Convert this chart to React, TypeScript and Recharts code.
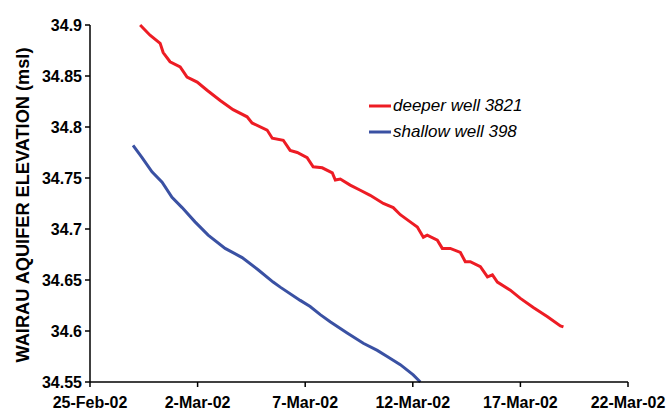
import React from "react";
import { LineChart, Line, XAxis, YAxis, Legend } from "recharts";

// Days since 25-Feb-02
const deeperDays = [2.33, 2.79, 3.26, 3.4, 3.72, 4.19, 4.51, 4.98, 5.44, 6.05, 6.65, 7.3, 7.53, 8.23, 8.47, 8.98, 9.3, 9.63, 10.09, 10.37, 10.79, 11.26, 11.4, 11.63, 12.09, 12.56, 13.02, 13.63, 14.09, 14.42, 14.88, 15.21, 15.49, 15.67, 16.14, 16.37, 16.74, 17.21, 17.44, 17.67, 18.14, 18.47, 18.7, 18.93, 19.53, 20.0, 20.6, 21.26, 21.86, 22.0];
const deeperValues = [34.9, 34.89, 34.882, 34.873, 34.864, 34.859, 34.849, 34.844, 34.836, 34.826, 34.817, 34.81, 34.804, 34.797, 34.789, 34.787, 34.777, 34.775, 34.77, 34.761, 34.76, 34.755, 34.748, 34.749, 34.743, 34.738, 34.733, 34.725, 34.721, 34.714, 34.707, 34.702, 34.692, 34.694, 34.689, 34.681, 34.681, 34.677, 34.668, 34.668, 34.663, 34.653, 34.655, 34.648, 34.64, 34.632, 34.623, 34.614, 34.605, 34.604];

const shallowDays = [2.0, 2.42, 2.88, 3.35, 3.81, 4.28, 4.88, 5.49, 6.28, 7.07, 7.81, 8.51, 8.84, 9.77, 10.23, 10.7, 11.16, 11.95, 12.7, 13.35, 13.81, 14.42, 15.02, 15.35];
const shallowValues = [34.782, 34.77, 34.756, 34.746, 34.731, 34.721, 34.707, 34.694, 34.681, 34.672, 34.66, 34.648, 34.643, 34.63, 34.624, 34.616, 34.609, 34.598, 34.588, 34.581, 34.575, 34.567, 34.557, 34.55];

const xTicks = [0, 5, 10, 15, 20, 25];
const xTickLabels = ["25-Feb-02", "2-Mar-02", "7-Mar-02", "12-Mar-02", "17-Mar-02", "22-Mar-02"];
const yTicks = [34.55, 34.6, 34.65, 34.7, 34.75, 34.8, 34.85, 34.9];
const yTickLabels = ["34.55", "34.6", "34.65", "34.7", "34.75", "34.8", "34.85", "34.9"];

const seriesNames = ["deeper well 3821", "shallow well 398"];
const seriesColors = ["#ED1C24", "#3A51A3"];
const yAxisTitle = "WAIRAU AQUIFER ELEVATION (msl)";

const deeperData = deeperDays.map((d, i) => ({ day: d, value: deeperValues[i] }));
const shallowData = shallowDays.map((d, i) => ({ day: d, value: shallowValues[i] }));

const FONT = "Arial, 'Liberation Sans', sans-serif";

const LegendContent = () => (
  <div style={{ fontFamily: FONT, fontStyle: "italic", fontSize: 17, color: "#000", textAlign: "left" }}>
    {seriesNames.map((n, i) => (
      <div key={n} style={{ display: "flex", alignItems: "center", height: 26 }}>
        <svg width={24} height={6} style={{ marginRight: 1 }}>
          <line x1={1} y1={3} x2={23} y2={3} stroke={seriesColors[i]} strokeWidth={3} />
        </svg>
        <span>{n}</span>
      </div>
    ))}
  </div>
);

const YTitle = () => (
  <text
    x={23}
    y={205}
    transform="rotate(-90, 23, 205)"
    textAnchor="middle"
    dominantBaseline="central"
    fontFamily={FONT}
    fontWeight="bold"
    fontSize={18.2}
    fill="#000"
  >
    {yAxisTitle}
  </text>
);

export default function App() {
  return (
    <div style={{ position: "absolute", left: 0, top: 0, background: "#fff" }}>
      <LineChart width={671} height={412} margin={{ top: 25, right: 43, bottom: 0, left: 0 }}>
        <XAxis
          type="number"
          dataKey="day"
          domain={[0, 25]}
          ticks={xTicks}
          tickFormatter={(v: number) => xTickLabels[xTicks.indexOf(v)] ?? ""}
          height={30}
          tickSize={5}
          tickMargin={10}
          stroke="#000"
          strokeWidth={1.5}
          tick={{ fill: "#000", fontSize: 16, fontWeight: "bold", fontFamily: FONT }}
          interval={0}
        />
        <YAxis
          type="number"
          domain={[34.55, 34.9]}
          ticks={yTicks}
          tickFormatter={(v: number) => {
            const idx = yTicks.findIndex((t) => Math.abs(t - v) < 1e-6);
            return idx >= 0 ? yTickLabels[idx] : "";
          }}
          width={90}
          tickSize={5}
          tickMargin={3}
          stroke="#000"
          strokeWidth={1.5}
          tick={{ fill: "#000", fontSize: 16, fontWeight: "bold", fontFamily: FONT }}
          interval={0}
          label={<YTitle />}
        />
        <Legend
          layout="horizontal"
          verticalAlign="middle"
          align="center"
          wrapperStyle={{ left: 368, top: 93, width: 200 }}
          content={<LegendContent />}
        />
        <Line
          data={deeperData}
          dataKey="value"
          name={seriesNames[0]}
          stroke={seriesColors[0]}
          strokeWidth={3}
          dot={false}
          activeDot={false}
          isAnimationActive={false}
        />
        <Line
          data={shallowData}
          dataKey="value"
          name={seriesNames[1]}
          stroke={seriesColors[1]}
          strokeWidth={3}
          dot={false}
          activeDot={false}
          isAnimationActive={false}
        />
      </LineChart>
    </div>
  );
}
